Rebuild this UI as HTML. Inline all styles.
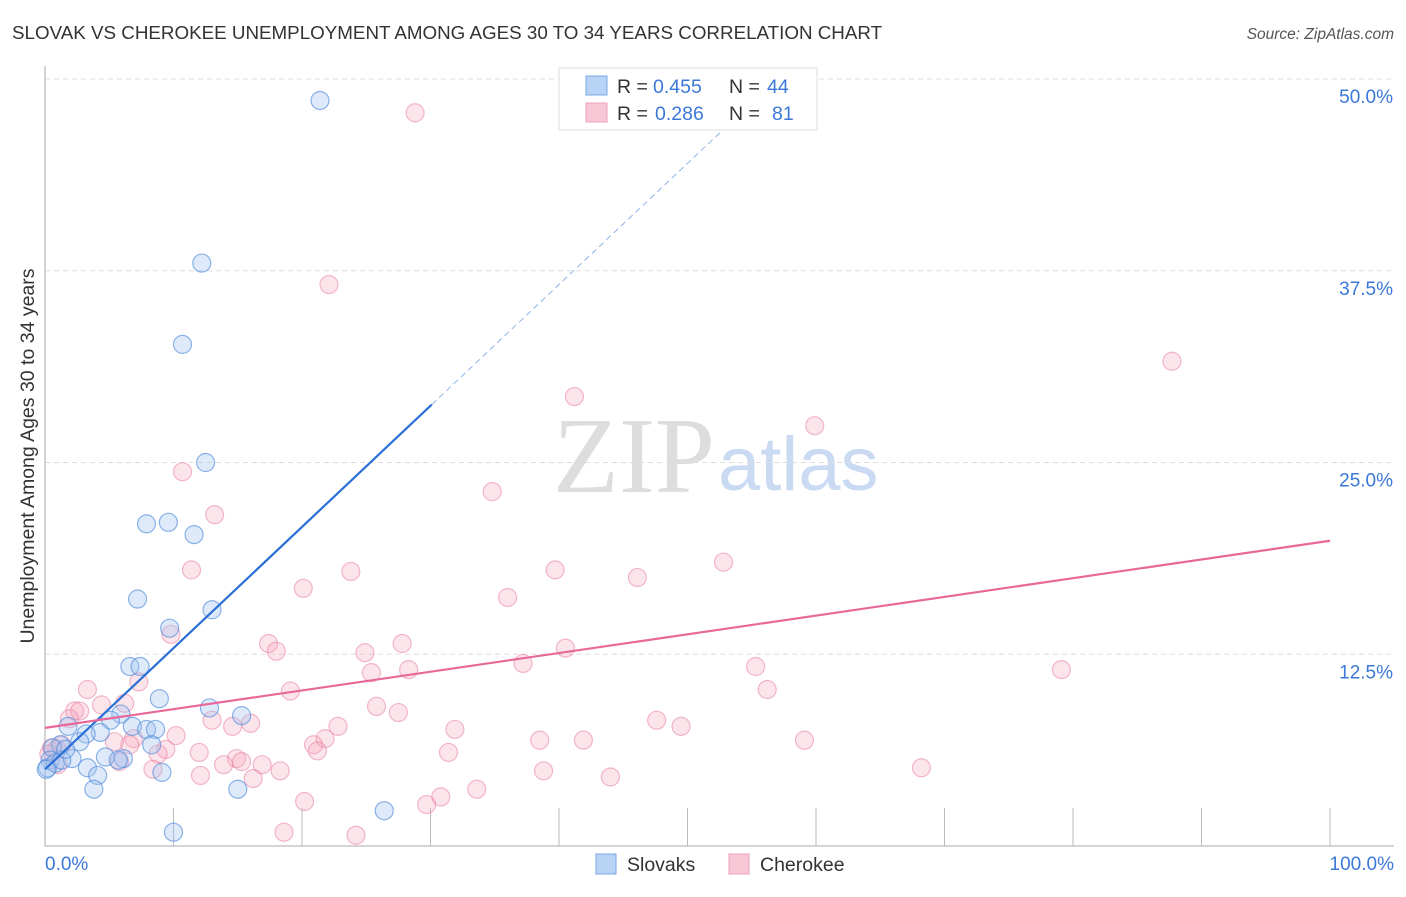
<!DOCTYPE html>
<html><head><meta charset="utf-8"><style>
body{margin:0;background:#fff;font-family:"Liberation Sans",sans-serif}
svg text{font-family:"Liberation Sans",sans-serif}
</style></head><body>
<svg id="chart" width="1406" height="892">
<text x="12" y="39" font-size="18.8" fill="#333">SLOVAK VS CHEROKEE UNEMPLOYMENT AMONG AGES 30 TO 34 YEARS CORRELATION CHART</text>
<text x="1394" y="39" font-size="15.5" fill="#555" text-anchor="end" font-style="italic">Source: ZipAtlas.com</text>
<text x="553" y="492" font-size="108" fill="#ddd" style="font-family:'Liberation Serif',serif">ZIP</text>
<text x="718" y="490" font-size="76" fill="#c9daf2">atlas</text>
<g id="grid"></g>
<g id="axes"></g>
<g id="marks"></g>
<text transform="translate(34,456) rotate(-90)" font-size="19.5" fill="#333" text-anchor="middle">Unemployment Among Ages 30 to 34 years</text>
<text x="45" y="870" font-size="19" fill="#3b78d8">0.0%</text>
<text x="1394" y="870" font-size="19" fill="#3b78d8" text-anchor="end">100.0%</text>
<g>
<rect x="559" y="68" width="258" height="62" fill="#fff" stroke="#ddd"/>
<rect x="586" y="76" width="21" height="19" fill="#b8d3f4" stroke="#7aa7e6"/>
<rect x="586" y="103" width="21" height="19" fill="#f8c7d6" stroke="#eda0b8"/>
<text x="617" y="93" font-size="19.5" fill="#333">R = <tspan x="653" fill="#3b78d8">0.455</tspan><tspan x="729">N = </tspan><tspan x="767" fill="#3b78d8">44</tspan></text>
<text x="617" y="120" font-size="19.5" fill="#333">R = <tspan x="655" fill="#3b78d8">0.286</tspan><tspan x="729">N = </tspan><tspan x="772" fill="#3b78d8">81</tspan></text>
</g>
<g>
<rect x="596" y="854" width="20" height="20" fill="#b8d3f4" stroke="#7aa7e6"/>
<text x="627" y="871" font-size="19.5" fill="#333">Slovaks</text>
<rect x="729" y="854" width="20" height="20" fill="#f8c7d6" stroke="#eda0b8"/>
<text x="760" y="871" font-size="19.5" fill="#333">Cherokee</text>
</g>
</svg>
<script>
const yTicks=[12.5,25,37.5,50];
const yTickLabels=["12.5%","25.0%","37.5%","50.0%"];
const xTicks=[10,20,30,40,50,60,70,80,90,100];
const slovakX=[21.4,12.2,10.7,12.5,9.6,7.9,11.6,7.2,13.0,9.7,6.6,7.4,8.9,12.8,15.3,5.9,1.8,6.8,7.9,8.6,5.1,4.3,3.2,2.7,1.2,0.6,8.3,4.7,6.1,5.7,2.1,3.3,4.1,9.1,3.8,15.0,26.4,10.0,0.4,0.2,0.8,0.1,1.3,1.6];
const slovakY=[48.6,38.0,32.7,25.0,21.1,21.0,20.3,16.1,15.4,14.2,11.7,11.7,9.6,9.0,8.5,8.6,7.8,7.8,7.6,7.6,8.2,7.4,7.3,6.8,6.6,6.4,6.6,5.8,5.7,5.6,5.7,5.1,4.6,4.8,3.7,3.7,2.3,0.9,5.6,5.1,5.4,5.0,5.6,6.3];
const cherokeeX=[28.8,22.1,87.7,41.2,59.9,10.7,34.8,13.2,52.8,39.7,23.8,11.4,46.1,20.1,36.0,9.8,17.4,27.8,18.0,24.9,40.5,37.2,28.3,25.4,55.3,79.1,7.3,3.3,56.2,19.1,6.2,4.4,25.8,2.3,2.7,27.5,1.9,47.6,49.5,13.0,14.6,16.0,22.8,31.9,10.2,21.8,5.4,6.9,59.1,38.5,41.9,20.9,21.2,1.3,0.5,0.9,9.4,8.8,12.0,31.4,14.9,15.3,13.9,16.9,18.3,8.4,12.1,16.2,38.8,68.2,44.0,33.6,30.8,29.7,20.2,18.6,24.2,5.8,6.6,1.0,0.3];
const cherokeeY=[47.8,36.6,31.6,29.3,27.4,24.4,23.1,21.6,18.5,18.0,17.9,18.0,17.5,16.8,16.2,13.8,13.2,13.2,12.7,12.6,12.9,11.9,11.5,11.3,11.7,11.5,10.7,10.2,10.2,10.1,9.3,9.2,9.1,8.8,8.8,8.7,8.3,8.2,7.8,8.2,7.8,8.0,7.8,7.6,7.2,7.0,6.8,7.0,6.9,6.9,6.9,6.6,6.2,6.6,6.4,6.3,6.3,6.0,6.1,6.1,5.7,5.5,5.3,5.3,4.9,5.0,4.6,4.4,4.9,5.1,4.5,3.7,3.2,2.7,2.9,0.9,0.7,5.5,6.6,5.3,6.0];
const slovakTrend=[5.0,0.79,30.1,52.8];
const cherokeeTrend=[7.7,19.9];
const NS="http://www.w3.org/2000/svg";
const X=v=>45+v*12.85, Y=v=>846-v*15.34;
function mk(t,a,p){const e=document.createElementNS(NS,t);for(const k in a)e.setAttribute(k,a[k]);p.appendChild(e);return e;}
const grid=document.getElementById('grid'),axes=document.getElementById('axes'),marks=document.getElementById('marks');
yTicks.forEach((t,i)=>{
 const l=mk('line',{x1:45,x2:1394,y1:Y(t),y2:Y(t),stroke:'#ddd','stroke-dasharray':'5,4'},grid);
 
 
 const tx=mk('text',{x:1393,y:Y(t)+24,'font-size':19,fill:'#3b78d8','text-anchor':'end'},grid);
 tx.textContent=yTickLabels[i];
 
 
});
const ax=mk('line',{x1:45,x2:45,y1:66,y2:846,stroke:'#aaa'},axes);


const bx=mk('line',{x1:45,x2:1394,y1:846,y2:846,stroke:'#aaa'},axes);


xTicks.forEach(t=>{
 const l=mk('line',{x1:X(t),x2:X(t),y1:808,y2:846,stroke:'#bbb'},axes);
 
 
});
cherokeeX.forEach((x,i)=>{
 const c=mk('circle',{cx:X(x),cy:Y(cherokeeY[i]),r:9,fill:'rgba(244,165,190,0.3)',stroke:'rgba(232,130,162,0.55)','stroke-width':1.2},marks);
 
 
});
slovakX.forEach((x,i)=>{
 const c=mk('circle',{cx:X(x),cy:Y(slovakY[i]),r:9,fill:'rgba(160,196,240,0.35)',stroke:'rgba(80,140,220,0.65)','stroke-width':1.2},marks);
 
 
});
const [b0,b1,bs,be]=slovakTrend;
const s1=mk('line',{x1:X(0),y1:Y(b0),x2:X(bs),y2:Y(b0+b1*bs),stroke:'#2a6fd6','stroke-width':2.2},marks);


const s2=mk('line',{x1:X(bs),y1:Y(b0+b1*bs),x2:X(be),y2:Y(b0+b1*be),stroke:'#8fb3e8','stroke-width':1,'stroke-dasharray':'6,4'},marks);


const p1=mk('line',{x1:X(0),y1:Y(cherokeeTrend[0]),x2:X(100),y2:Y(cherokeeTrend[1]),stroke:'#e8689a','stroke-width':2.2},marks);


</script>
</body></html>
